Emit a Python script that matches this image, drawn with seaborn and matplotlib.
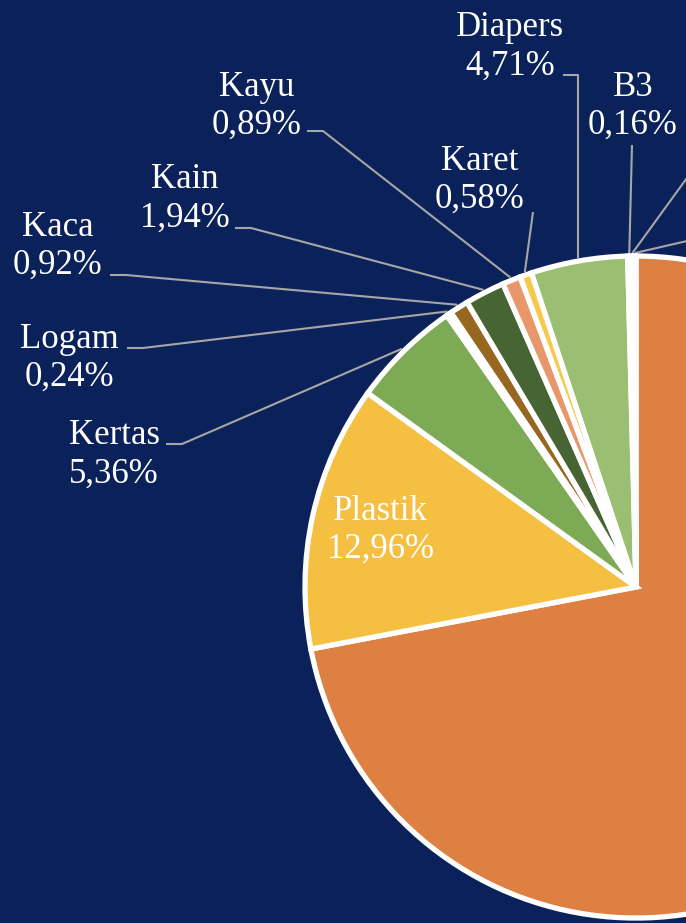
import matplotlib
matplotlib.use("Agg")
import matplotlib.pyplot as plt
import numpy as np
import seaborn as sns

# Komposisi sampah (persen), urutan searah jarum jam dari jam 12
lstCategories = ["Sisa Makanan", "Plastik", "Kertas", "Logam", "Kaca", "Kain",
                 "Kayu", "Karet", "Diapers", "B3", "Lainnya", "Residu"]
lstPercent = [72.00, 12.96, 5.36, 0.24, 0.92, 1.94, 0.89, 0.58, 4.71, 0.16, 0.14, 0.10]
lstHexColors = ["#df8043", "#f5bf42", "#7daa55", "#a5a5a5", "#97661f", "#476532",
                "#e8976a", "#f7c94a", "#9bbf72", "#ffffff", "#5b9bd5", "#70ad47"]

# label luar: posisi teks (px), awal garis (px), gaya garis
dctLabelLayout = {
    "Kertas": ((114, 455), (166, 444), "h"),
    "Logam": ((69, 358), (127, 348), "h"),
    "Kaca": ((58, 246), (110, 275), "h"),
    "Kain": ((185, 199), (235, 228), "h"),
    "Kayu": ((257, 106), (307, 131), "h"),
    "Karet": ((480, 180), (533, 212), "v"),
    "Diapers": ((510, 47), (563, 75), "corner"),
    "B3": ((633, 106), (632, 145), "v"),
    "Lainnya": (None, (700, 160), "v"),
    "Residu": (None, (700, 238), "v"),
}

iW, iH = 686, 923
sBg = "#0a2159"
sLine = "#a6a6a6"

sns.set_theme(style="white")
plt.rcParams["font.family"] = ["Liberation Serif", "DejaVu Serif"]

fig = plt.figure(figsize=(iW / 100, iH / 100), dpi=100)
fig.patch.set_facecolor(sBg)
ax = fig.add_axes([0, 0, 1, 1])
ax.set_facecolor(sBg)

tCenter = (636, iH - 587)
fRadius = 331
lstExplode = [0.03] + [0] * (len(lstPercent) - 1)
lstColors = sns.color_palette(lstHexColors)

lstWedges, _ = ax.pie(
    lstPercent,
    colors=lstColors,
    startangle=90,
    counterclock=False,
    radius=fRadius,
    center=tCenter,
    explode=lstExplode,
    wedgeprops=dict(edgecolor="white", linewidth=3.8, joinstyle="miter", antialiased=True),
)

def FormatPct(fVal):
    return f"{fVal:.2f}%".replace(".", ",")

for sCat, fVal, oWedge in zip(lstCategories, lstPercent, lstWedges):
    fMid = np.deg2rad((oWedge.theta1 + oWedge.theta2) / 2)
    if sCat == "Plastik":
        fX = tCenter[0] + 0.79 * fRadius * np.cos(fMid)
        fY = tCenter[1] + 0.79 * fRadius * np.sin(fMid)
        ax.text(fX, fY, f"{sCat}\n{FormatPct(fVal)}", color="white", fontsize=25,
                ha="center", va="center", linespacing=1.2)
        continue
    if sCat not in dctLabelLayout:
        continue
    tText, tStart, sStyle = dctLabelLayout[sCat]
    fPx = tCenter[0] + (fRadius + 3) * np.cos(fMid)
    fPy = tCenter[1] + (fRadius + 3) * np.sin(fMid)
    fSx, fSy = tStart[0], iH - tStart[1]
    if sStyle == "h":
        lstX = [fSx, fSx + 16, fPx]
        lstY = [fSy, fSy, fPy]
    elif sStyle == "corner":
        lstX = [fSx, fPx, fPx]
        lstY = [fSy, fSy, fPy]
    else:
        lstX = [fSx, fPx]
        lstY = [fSy, fPy]
    ax.plot(lstX, lstY, color=sLine, linewidth=1.5, solid_capstyle="butt", zorder=0.5)
    if tText is not None:
        ax.text(tText[0], iH - tText[1], f"{sCat}\n{FormatPct(fVal)}", color="white",
                fontsize=25, ha="center", va="center", linespacing=1.2)

ax.set_xlim(0, iW)
ax.set_ylim(0, iH)
ax.set_aspect("equal")
ax.axis("off")

fig.savefig("out.png", dpi=100, facecolor=sBg)
plt.close(fig)
